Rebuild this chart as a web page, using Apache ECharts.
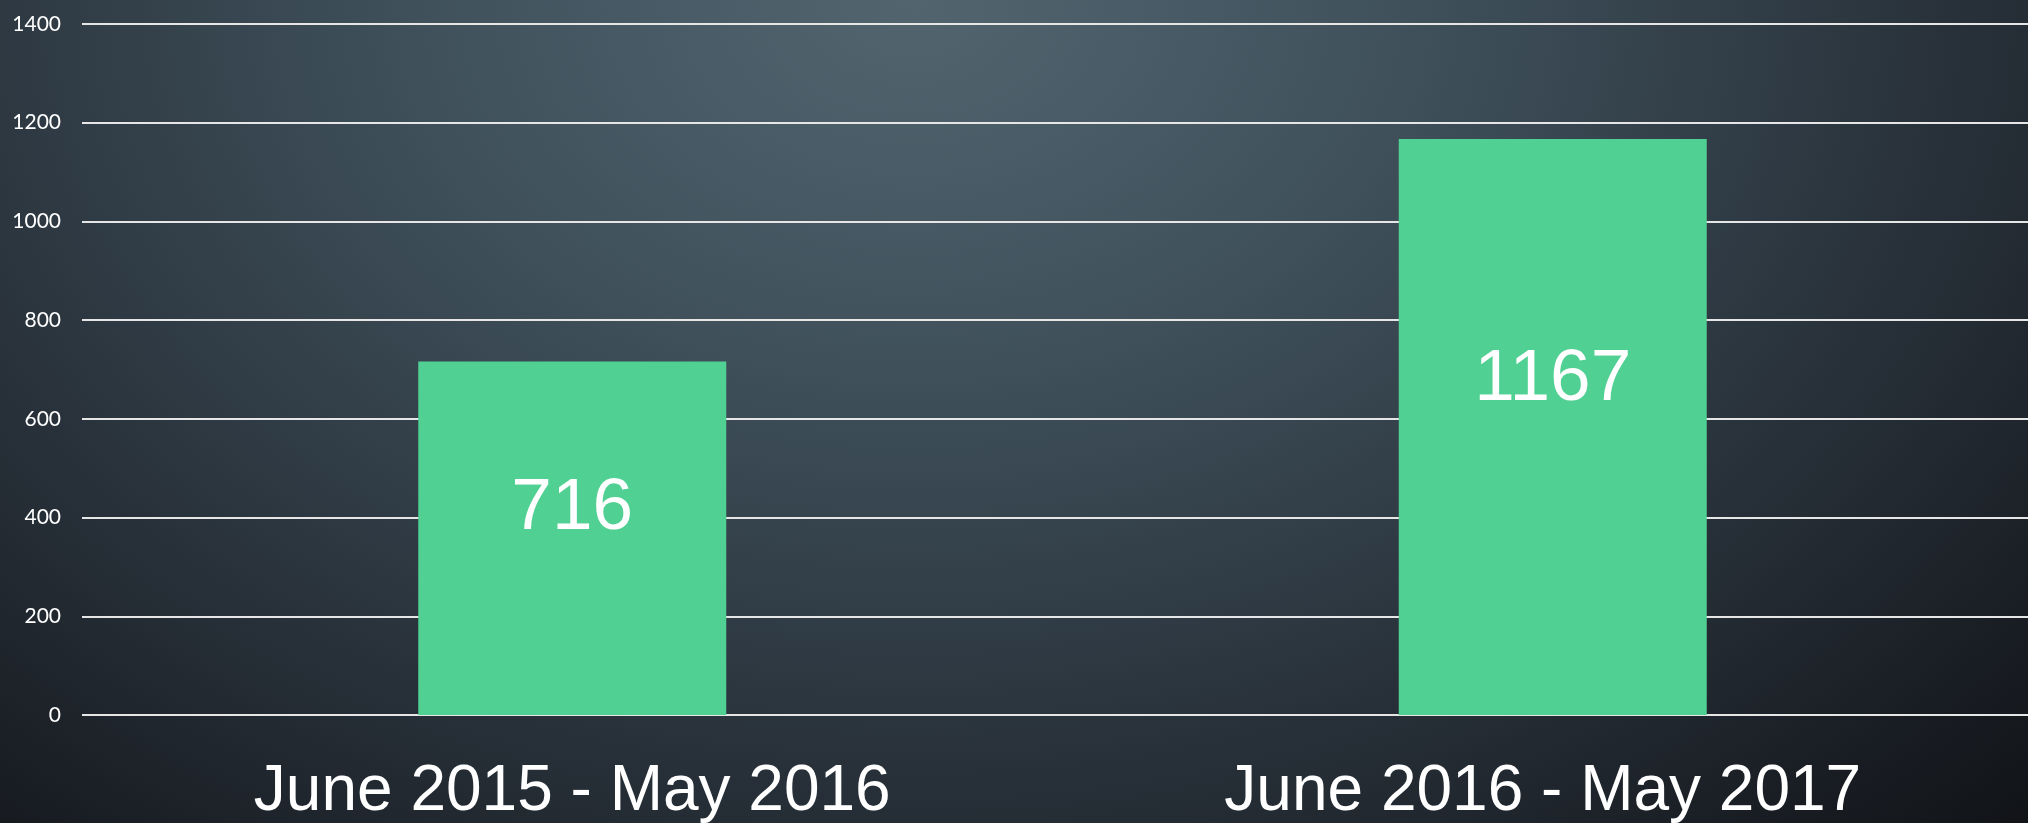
<!DOCTYPE html>
<html>
<head>
<meta charset="utf-8">
<script src="https://cdn.jsdelivr.net/npm/echarts@6/dist/echarts.min.js"></script>
<style>
  html, body { margin: 0; padding: 0; }
  body {
    width: 2028px; height: 823px; overflow: hidden;
    background: radial-gradient(ellipse farthest-corner at 45% 0%, #52656f 0%, #3f505b 32%, #28313a 66%, #111317 100%);
  }
  #chart { width: 2028px; height: 823px; }
</style>
</head>
<body>
<div id="chart"></div>
<script>
var categories = ['June 2015 - May 2016', 'June 2016 - May 2017']
var counts = [716, 1167]
var yTicks = [0, 200, 400, 600, 800, 1000, 1200, 1400]

var chart = echarts.init(document.getElementById('chart'))
chart.setOption({
  backgroundColor: 'transparent',
  animation: false,
  grid: {
    left: 82,
    right: -15,
    top: 24,
    bottom: 108,
    containLabel: false,
    outerBoundsMode: 'none'
  },
  xAxis: {
    type: 'category',
    data: categories,
    axisLine: { show: false },
    axisTick: { show: false },
    axisLabel: {
      interval: 0,
      showMinLabel: true,
      showMaxLabel: true,
      hideOverlap: false,
      color: '#ffffff',
      fontFamily: 'Liberation Sans, Arial, sans-serif',
      fontSize: 64,
      lineHeight: 64,
      margin: 45,
      // last label sits a little left of its bar in the original
      formatter: function (v, i) {
        return i === categories.length - 1 ? '{last|' + v + '}' : v
      },
      rich: {
        last: {
          color: '#ffffff',
          fontFamily: 'Liberation Sans, Arial, sans-serif',
          fontSize: 64,
          lineHeight: 64,
          padding: [0, 20, 0, 0]
        }
      }
    }
  },
  yAxis: {
    type: 'value',
    min: yTicks[0],
    max: yTicks[yTicks.length - 1],
    interval: 200,
    axisLine: { show: false },
    axisTick: { show: false },
    axisLabel: {
      color: '#ffffff',
      fontFamily: 'Lato, Open Sans, sans-serif',
      fontSize: 21,
      margin: 21,
      formatter: function (v) { return String(v) }
    },
    splitLine: {
      lineStyle: { color: '#e6e6e6', width: 2 }
    }
  },
  series: [{
    type: 'bar',
    data: counts,
    barWidth: 308,
    itemStyle: { color: '#50d092' },
    label: {
      show: true,
      position: ['50%', '41.8%'],
      align: 'center',
      verticalAlign: 'middle',
      color: '#ffffff',
      fontFamily: 'Liberation Sans, Arial, sans-serif',
      fontSize: 73
    }
  }]
})
</script>
</body>
</html>
